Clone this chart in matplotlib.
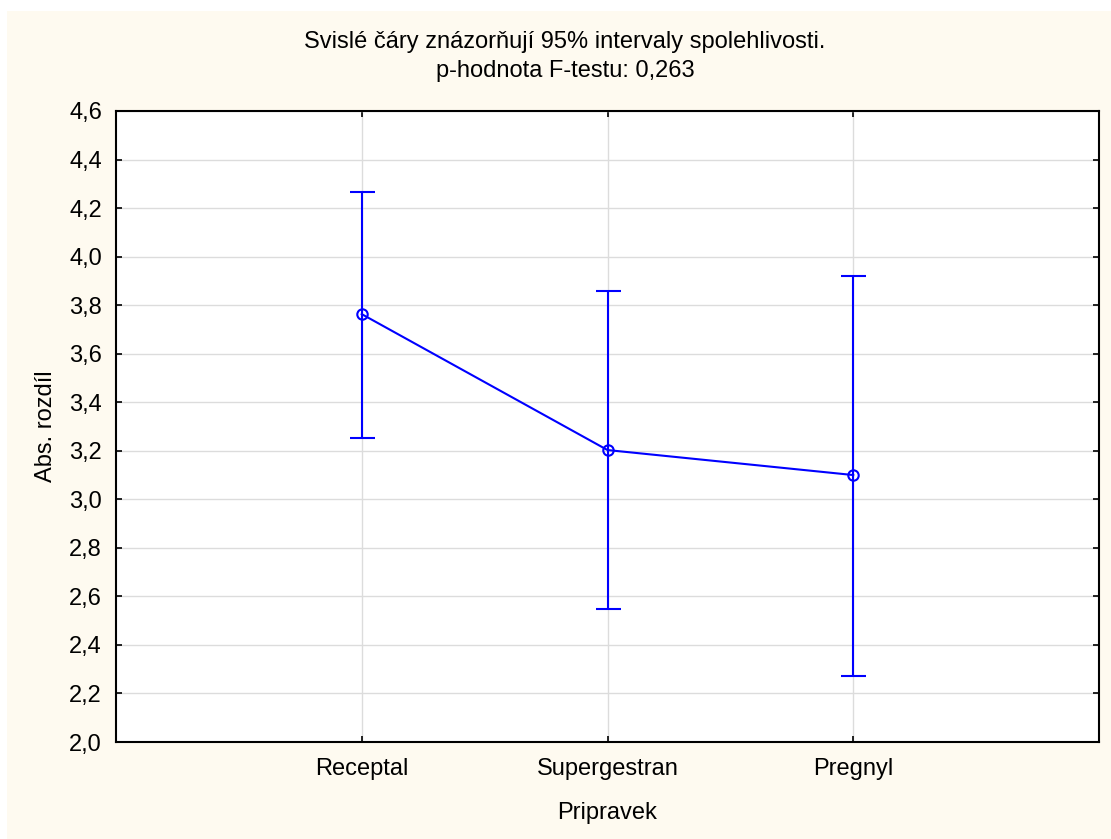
import matplotlib
matplotlib.use("Agg")
import matplotlib.pyplot as plt
from matplotlib.patches import Rectangle
import numpy as np

categories = ["Receptal", "Supergestran", "Pregnyl"]
means = [3.763, 3.203, 3.100]
upper = [4.266, 3.858, 3.920]
lower = [3.253, 2.548, 2.272]
yticks = [2.0, 2.2, 2.4, 2.6, 2.8, 3.0, 3.2, 3.4, 3.6, 3.8, 4.0, 4.2, 4.4, 4.6]

plt.rcParams['font.family'] = ['Liberation Sans', 'DejaVu Sans']
FS = 17

W, H = 1111, 839
fig = plt.figure(figsize=(W/100, H/100), dpi=100)
fig.patch.set_facecolor('white')
fig.patches.append(Rectangle((7/W, 0), 1 - 7/W, 1 - 11/H, transform=fig.transFigure,
                             facecolor='#FEFAF0', edgecolor='none', zorder=-10))

ax = fig.add_axes([116/W, 1 - 742/H, (1099-116)/W, (742-111)/H])
ax.set_facecolor('white')

x = np.arange(1, len(categories) + 1)
m = np.array(means)
yerr = np.vstack([m - np.array(lower), np.array(upper) - m])
ax.errorbar(x, m, yerr=yerr, color='#0000FF', lw=1.5, elinewidth=1.5, capsize=9,
            capthick=1.5, marker='o', markersize=7.5, markerfacecolor='none',
            markeredgecolor='#0000FF', markeredgewidth=1.5, zorder=3)

ax.set_xlim(0, 4)
ax.set_ylim(2.0, 4.6)
ax.set_xticks(x)
ax.set_xticklabels(categories)
ax.set_yticks(yticks)
ax.set_yticklabels([f"{v:.1f}".replace('.', ',') for v in yticks])
ax.grid(True, color='#DCDCDC', lw=1)
ax.set_axisbelow(True)
ax.tick_params(direction='in', length=4, width=1.2, top=True, right=True,
               labelsize=FS, colors='black')
ax.tick_params(axis='x', pad=11.5)
ax.tick_params(axis='y', pad=10)
for s in ax.spines.values():
    s.set_linewidth(1.5)
    s.set_color('black')

ax.set_xlabel("Pripravek", fontsize=FS)
ax.xaxis.set_label_coords(0.5, (742 - 802) / 631)
ax.set_ylabel("Abs. rozdíl", fontsize=FS)
ax.yaxis.set_label_coords((116 - 57) / -983 * 1.0, 0.5)

fig.text(565 / W, 1 - 48 / H, "Svislé čáry znázorňují 95% intervaly spolehlivosti.",
         ha='center', va='baseline', fontsize=FS)
fig.text(565 / W, 1 - 77 / H, "p-hodnota F-testu: 0,263",
         ha='center', va='baseline', fontsize=FS)

fig.savefig("out.png", dpi=100, facecolor=fig.get_facecolor())
